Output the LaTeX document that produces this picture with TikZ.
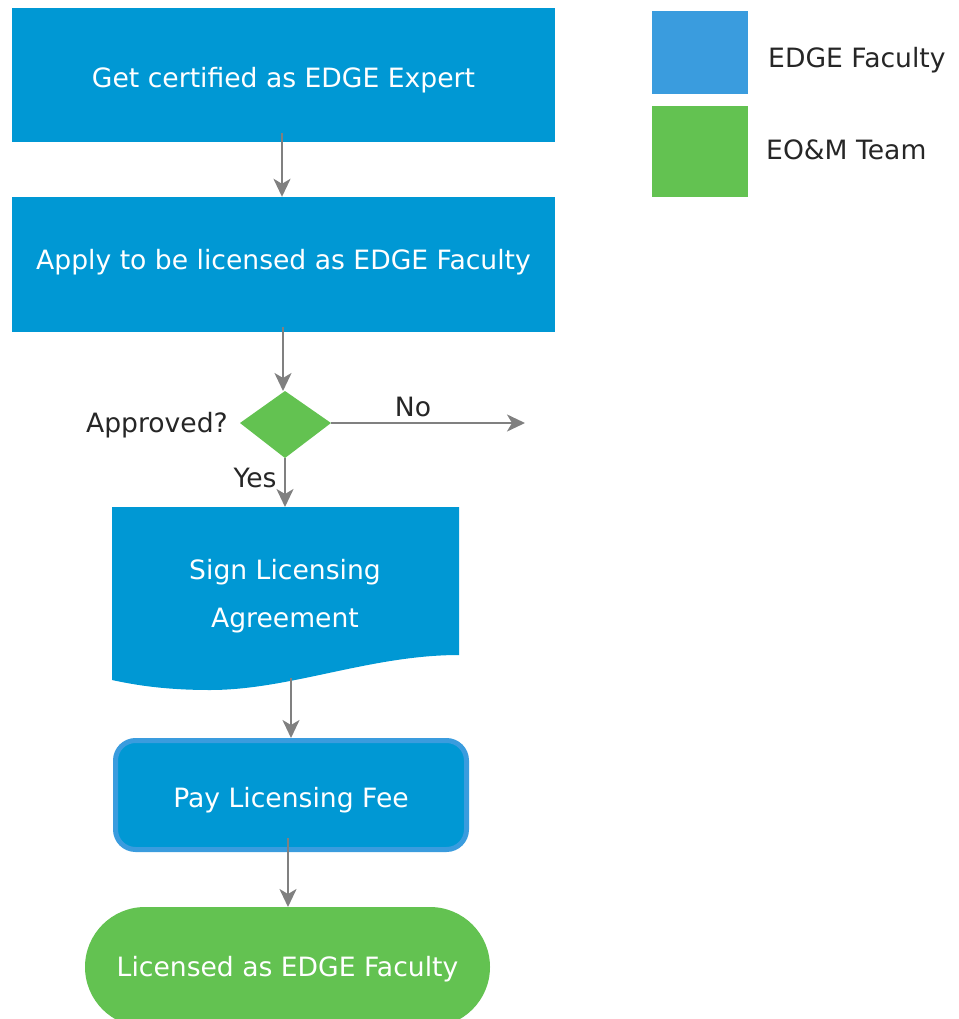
\documentclass[tikz,border=0pt]{standalone}
\usepackage{fontspec}
\setmainfont{DejaVu Sans}
\usetikzlibrary{arrows.meta}
\definecolor{stepblue}{RGB}{0,152,212}
\definecolor{legblue}{RGB}{58,156,222}
\definecolor{teamgreen}{RGB}{99,194,81}
\definecolor{linegrey}{RGB}{128,128,128}
\definecolor{labeltext}{RGB}{38,38,38}
\tikzset{
  stepbox/.style={fill=stepblue, inner sep=0pt},
  steptext/.style={text=white, inner sep=0pt, align=center, font=\fontsize{26.6}{48}\selectfont},
  flowarrow/.style={draw=linegrey, line width=2.4pt, -{Stealth[length=18pt, width=17pt, inset=5pt]}},
  lbl/.style={text=labeltext, font=\fontsize{26.6}{31}\selectfont, inner sep=0pt},
}
\begin{document}
\begin{tikzpicture}[x=1pt, y=-1pt]
\useasboundingbox (0,0) rectangle (958,1019);

% process boxes
\node[stepbox, minimum width=543pt, minimum height=134pt] (cert) at (283.5,75) {};
\node[steptext] (certtext) at (283.5,80) {Get certified as EDGE Expert};
\node[stepbox, minimum width=543pt, minimum height=135pt] (apply) at (283.5,264.5) {};
\node[steptext] (applytext) at (283.5,262.5) {Apply to be licensed as EDGE Faculty};

% decision
\fill[teamgreen] (240,423) -- (285,391) -- (331,423) -- (285,458) -- cycle;
\coordinate (dtop) at (285,391);
\coordinate (dright) at (331,423);
\coordinate (dbot) at (285,458);
\node[lbl, anchor=east] (approved) at (228,425) {Approved?};
\coordinate (noend) at (525,423);
\node[lbl] (no) at (413,407) {No};
\node[lbl] (yes) at (255,478) {Yes};

% document shape
\fill[stepblue] (112,507) -- (459,507) -- (459,655)
  .. controls (370,655) and (290,690) .. (210,690)
  .. controls (165,690) and (135,685) .. (112,680) -- cycle;
\node[steptext] (sign) at (285,596) {Sign Licensing\\Agreement};
\coordinate (signtop) at (285,507);
\coordinate (signbot) at (291,678);

% payment box
\node[stepbox, draw=legblue, line width=5pt, rounded corners=20pt, minimum width=351pt, minimum height=109pt] (pay) at (291,795) {};
\node[steptext] (paytext) at (291,800) {Pay Licensing Fee};

% terminal
\fill[teamgreen, rounded corners=60pt] (85,907) rectangle (490,1027);
\node[steptext] (done) at (287.5,969) {Licensed as EDGE Faculty};
\coordinate (donetop) at (288,907);

% connectors
\draw[flowarrow] ([xshift=-1.5pt, yshift=9pt]cert.south) -- ([xshift=-1.5pt]apply.north);
\draw[flowarrow] ([xshift=-0.5pt, yshift=5pt]apply.south) -- ([xshift=-2pt]dtop);
\draw[flowarrow] (dright) -- (noend);
\draw[flowarrow] (dbot) -- (signtop);
\draw[flowarrow] (signbot) -- (pay.north);
\draw[flowarrow] ([xshift=-3pt, yshift=14pt]pay.south) -- (donetop);

% legend
\fill[legblue] (652,11) rectangle (748,94);
\fill[teamgreen] (652,106) rectangle (748,197);
\node[lbl, anchor=west] (legfac) at (768,60) {EDGE Faculty};
\node[lbl, anchor=west] (legteam) at (766,150) {EO\&M Team};
\end{tikzpicture}
\end{document}
